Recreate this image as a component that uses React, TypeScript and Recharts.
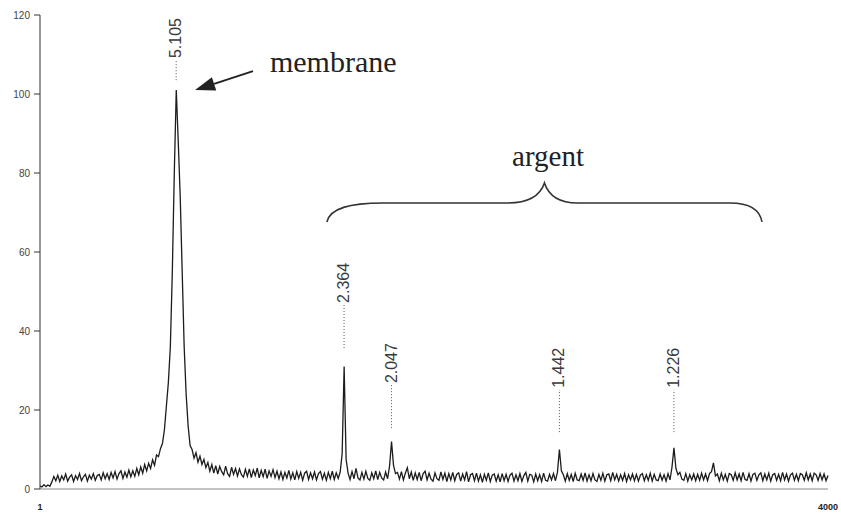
import React from 'react';
import { LineChart, Line, XAxis, YAxis, ReferenceLine, ReferenceDot } from 'recharts';

// ---- spectrum intensities, evenly spaced channels from 1 to 4000 ----
const START_CHANNEL = 1;
const END_CHANNEL = 4000;

const segStart = [0.8, 0.5, 1.1, 0.6, 1.0, 0.7];
const segRise1 = [1.8, 3.2, 2.1, 3.5, 1.9, 3.3, 2.3, 3.8, 2.0, 3.0, 3.6, 1.9, 3.4, 2.4, 3.9, 2.1, 3.1, 3.7, 2.0, 3.5, 2.5, 3.9, 2.2, 3.4];
const segRise2 = [3.7, 2.3, 4.1, 2.6, 3.9, 2.4, 4.2, 2.8, 4.4, 2.5, 3.9, 4.6, 2.7, 4.3, 3.0, 4.8, 3.1];
const segRise3 = [4.6, 3.2, 5.2, 3.6, 5.6, 4.0, 6.2, 4.6];
const segRise4 = [6.5, 5.2, 7.4, 6.0, 8.6, 8.2, 10.2];
const membranePeak = [11.5, 15, 21, 27, 36, 55, 80, 101, 88, 74, 55, 36, 24, 16, 11];
const segTail1 = [10.0, 7.8, 9.2, 6.8, 8.3, 6.2, 7.5, 5.4, 6.7];
const segTail2 = [4.5, 6.2, 4.0, 5.9, 3.8, 5.7, 4.4, 3.6, 5.8, 3.9, 3.2, 5.5, 3.7, 5.2, 3.3, 5.1, 3.6];
const segTail3 = [3.0, 5.0, 3.2, 5.1, 2.9, 4.8, 3.4, 5.3, 2.8, 4.7, 3.1, 5.0, 2.7, 4.6, 3.2, 4.9, 2.9];
const segBase1 = [4.5, 2.6, 4.3, 2.4, 4.2, 2.8, 4.7, 2.5, 4.1, 2.3, 4.4, 2.7, 4.2, 2.2, 4.0, 4.5, 2.4, 4.1, 2.6, 4.3, 2.3, 3.9, 4.4, 2.5, 4.0, 2.2, 4.2, 2.6, 4.5, 2.4, 4.1, 2.7, 4.3];
const peak2364 = [9, 31, 7.5, 4.0];
const segBase2 = [2.4, 4.4, 2.6, 5.2, 2.8, 2.3, 4.2, 2.5, 4.5, 2.7, 2.2, 4.1, 2.6, 4.6, 2.4, 4.2, 2.8, 2.3, 4.3, 2.6];
const peak2047 = [5.8, 12, 6.0];
const segBase3 = [
  3.9,
  4.2, 2.5, 4.4, 2.3, 4.0, 5.4, 2.6, 4.3, 2.2, 4.1,
  2.4, 4.2, 2.1, 3.9, 4.5, 2.3, 4.0, 2.5, 2.0, 4.1,
  2.6, 2.2, 4.3, 2.4, 4.0, 1.9, 3.9, 2.3, 4.2, 2.1,
  3.7, 4.1, 2.0, 3.8, 2.3, 4.4, 1.8, 3.6, 3.9, 2.1,
  4.0, 2.0, 3.6, 1.7, 3.7, 2.2, 4.1, 1.9, 3.5, 3.8,
  2.0, 3.6, 1.8, 3.9, 2.1, 3.7, 1.9, 3.5, 4.0, 2.0,
  3.6, 2.1, 3.9, 1.9, 3.4, 4.2, 2.0, 3.7, 3.5, 1.8,
  3.8, 2.1, 3.6, 1.9, 4.0, 2.2, 2.0, 3.7, 2.3, 3.9,
  2.1, 4.2,
];
const peak1442 = [10, 4.6];
const segBase4 = [
  3.6, 2.0, 3.9, 2.2, 3.7, 1.9, 4.0, 2.3, 2.1, 3.8,
  2.2, 4.1, 2.0, 3.6, 2.1, 3.9, 2.3, 1.9, 3.7, 2.2,
  4.0, 2.0, 3.6, 3.8, 2.1, 4.2, 2.3, 3.7, 2.0, 3.6,
  2.2, 3.9, 1.9, 3.6, 2.3, 3.8, 2.1, 3.7, 2.0, 3.5,
  3.9, 2.1, 3.6, 2.2, 4.0, 2.0, 3.7, 2.3, 2.1, 3.8,
  2.2, 3.6, 2.0, 3.9, 2.3,
];
const peak1226 = [5.5, 10.4, 5.2];
const segBase5 = [3.6, 4.2, 2.5, 2.2, 3.9, 2.0, 3.6, 2.3, 3.8, 2.1, 3.7, 2.2, 4.0, 2.3, 3.8, 2.1, 3.9, 4.4];
const smallPeak = [6.6, 3.3];
const segBase6 = [
  3.8, 2.1, 4.0, 2.3, 3.7, 2.0, 3.9, 3.6, 2.2, 4.1,
  2.3, 3.8, 2.1, 4.2, 2.4, 2.2, 3.9, 2.0, 3.7, 4.0,
  2.2, 3.6, 4.1, 2.1, 3.8, 2.3, 4.0, 2.0, 3.6, 3.9,
  2.2, 3.7, 2.1, 4.2, 2.3, 3.8, 2.0, 3.6, 4.0, 2.2,
  3.7, 2.1, 3.9, 3.6, 2.2, 4.1, 2.3, 3.8, 2.1, 4.0,
  3.6, 2.2, 3.9, 2.3, 3.8, 2.1, 3.4,
];

const intensity = [
  ...segStart, ...segRise1, ...segRise2, ...segRise3, ...segRise4,
  ...membranePeak, ...segTail1, ...segTail2, ...segTail3, ...segBase1,
  ...peak2364, ...segBase2, ...peak2047, ...segBase3, ...peak1442,
  ...segBase4, ...peak1226, ...segBase5, ...smallPeak, ...segBase6,
];

const data = intensity.map((v, i) => ({
  channel: START_CHANNEL + (i * (END_CHANNEL - START_CHANNEL)) / (intensity.length - 1),
  intensity: v,
}));

// ---- axis ticks ----
const yTicks = [0, 20, 40, 60, 80, 100, 120];
const xTicks = [1, 4000];

// ---- peak annotations (d-spacings) ----
const peakLabels = ['5.105', '2.364', '2.047', '1.442', '1.226'];
const peakChannels = [692, 1544, 1785, 2637, 3218];
const peakLineLow = [103.5, 35.7, 15.4, 14.4, 14.4];
const peakLineHigh = [108.6, 46.6, 26.3, 25.1, 25.1];

// ---- text annotations ----
const membraneText = 'membrane';
const membraneAnchor = { channel: 1168, value: 105.6 };
const arrowTail = { channel: 1082, value: 105.8 };
const arrowTip = { channel: 788, value: 101 };
const argentText = 'argent';
const argentAnchor = { channel: 2579, value: 81.8 };
const braceStart = { channel: 1457, value: 67.6 };
const braceEnd = { channel: 3665, value: 67.6 };

const SERIF = '"Liberation Serif", "Times New Roman", serif';
const SANS = '"Liberation Sans", Arial, sans-serif';

const PeakText = (label: string) => (props: any) => {
  const { cx, cy } = props;
  const x = cx + 5;
  const y = cy - 2;
  return (
    <text
      x={x}
      y={y}
      transform={`rotate(-90 ${x} ${y})`}
      textAnchor="start"
      fontFamily={SANS}
      fontSize={16}
      fill="#3a3a3a"
    >
      {label}
    </text>
  );
};

const Arrow = (props: any) => {
  const { x1, y1, x2, y2 } = props;
  const dx = x1 - x2;
  const dy = y1 - y2;
  const len = Math.sqrt(dx * dx + dy * dy) || 1;
  const ux = dx / len;
  const uy = dy / len;
  const headLen = 20;
  const half = 7;
  const bx = x2 + ux * headLen;
  const by = y2 + uy * headLen;
  const px = -uy;
  const py = ux;
  return (
    <g>
      <line x1={x1} y1={y1} x2={bx} y2={by} stroke="#222" strokeWidth={2} />
      <polygon
        points={`${x2},${y2} ${bx + px * half},${by + py * half} ${bx - px * half},${by - py * half}`}
        fill="#222"
      />
    </g>
  );
};

const Brace = (props: any) => {
  const { x1, x2, y1 } = props;
  const mid = (x1 + x2) / 2;
  const top = y1 - 19;
  const cusp = y1 - 39;
  const d = `M${x1},${y1} C${x1 + 3},${top + 5} ${x1 + 23},${top} ${x1 + 56},${top} L${mid - 37},${top} C${mid - 14},${top} ${mid - 4},${top - 8} ${mid},${cusp} C${mid + 4},${top - 8} ${mid + 14},${top} ${mid + 33},${top} L${x2 - 32},${top} C${x2 - 12},${top} ${x2 - 2},${top + 7} ${x2},${y1}`;
  return <path d={d} fill="none" stroke="#333" strokeWidth={1.6} />;
};

const XTick = (props: any) => {
  const { x, y, payload } = props;
  return (
    <text x={x} y={y} dy="0.71em" textAnchor="middle" fontFamily={SANS} fontSize={9} fontWeight="bold" fill="#222">
      {payload.value}
    </text>
  );
};

export default function App() {
  return (
    <div style={{ position: 'absolute', left: 0, top: 0, width: 841, height: 514, background: '#fff' }}>
      <LineChart width={841} height={514} data={data} margin={{ top: 15, right: 13, bottom: 5, left: 0 }}>
        <XAxis
          type="number"
          dataKey="channel"
          domain={[START_CHANNEL, END_CHANNEL]}
          ticks={xTicks}
          tickLine={false}
          tickMargin={9}
          height={20}
          axisLine={{ stroke: '#888' }}
          tick={<XTick />}
          interval={0}
        />
        <YAxis
          type="number"
          domain={[0, 120]}
          ticks={yTicks}
          width={40}
          tickSize={6}
          tickMargin={4}
          interval={0}
          axisLine={{ stroke: '#333' }}
          tickLine={{ stroke: '#333' }}
          tick={{ fontFamily: SANS, fontSize: 10, fill: '#444' }}
        />
        <Line
          type="linear"
          dataKey="intensity"
          stroke="#1c1c1c"
          strokeWidth={1.3}
          dot={false}
          isAnimationActive={false}
        />
        {peakLabels.map((label, i) => (
          <ReferenceLine
            key={`pl-${label}`}
            segment={[
              { x: peakChannels[i], y: peakLineLow[i] },
              { x: peakChannels[i], y: peakLineHigh[i] },
            ]}
            stroke="#555"
            strokeWidth={1}
            strokeDasharray="1 2"
          />
        ))}
        {peakLabels.map((label, i) => (
          <ReferenceDot
            key={`pt-${label}`}
            x={peakChannels[i]}
            y={peakLineHigh[i]}
            r={0}
            shape={PeakText(label)}
          />
        ))}
        <ReferenceDot
          x={membraneAnchor.channel}
          y={membraneAnchor.value}
          r={0}
          shape={(p: any) => (
            <text x={p.cx} y={p.cy} fontFamily={SERIF} fontSize={30} fill="#222" textAnchor="start">
              {membraneText}
            </text>
          )}
        />
        <ReferenceLine
          segment={[
            { x: arrowTail.channel, y: arrowTail.value },
            { x: arrowTip.channel, y: arrowTip.value },
          ]}
          shape={<Arrow />}
        />
        <ReferenceDot
          x={argentAnchor.channel}
          y={argentAnchor.value}
          r={0}
          shape={(p: any) => (
            <text x={p.cx} y={p.cy} fontFamily={SERIF} fontSize={29} fill="#222" textAnchor="middle">
              {argentText}
            </text>
          )}
        />
        <ReferenceLine
          segment={[
            { x: braceStart.channel, y: braceStart.value },
            { x: braceEnd.channel, y: braceEnd.value },
          ]}
          shape={<Brace />}
        />
      </LineChart>
    </div>
  );
}
